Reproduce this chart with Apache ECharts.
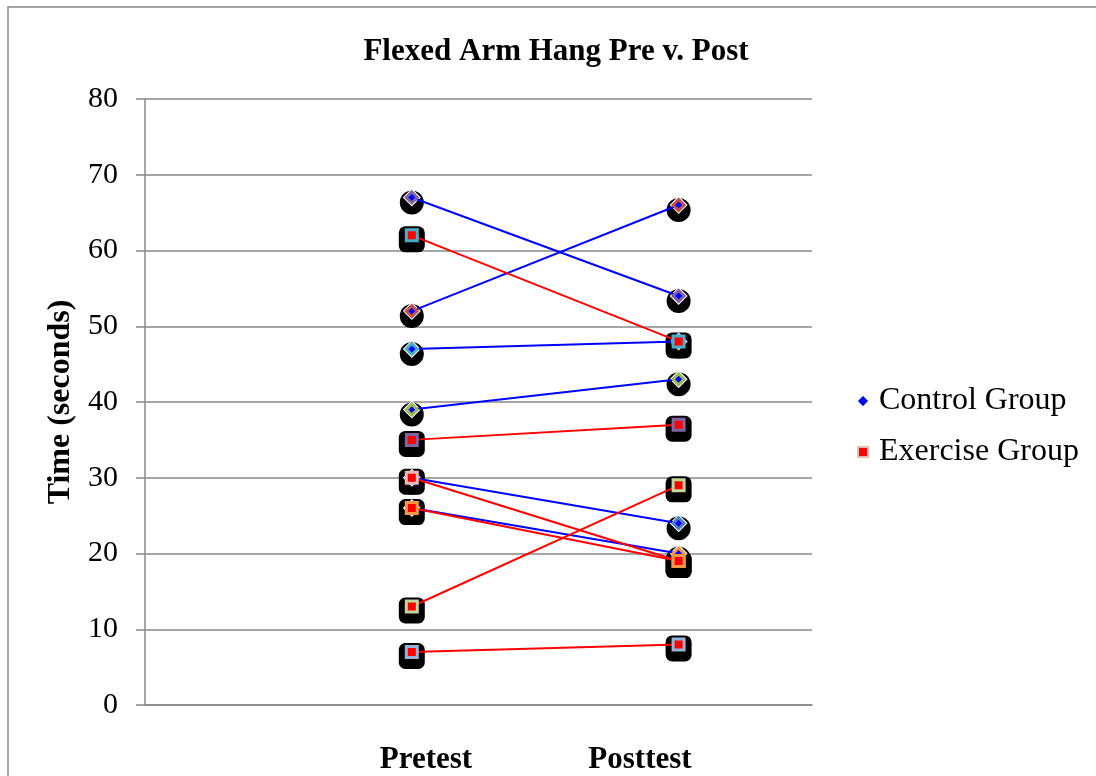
<!DOCTYPE html>
<html>
<head>
<meta charset="utf-8">
<script src="https://cdn.jsdelivr.net/npm/echarts@6/dist/echarts.min.js"></script>
<style>
html,body{margin:0;padding:0;background:#fff;}
#chart{width:1096px;height:776px;}
</style>
</head>
<body>
<div id="chart"></div>
<script>
// ---- data ----
var titleText = 'Flexed Arm Hang Pre v. Post';
var yAxisTitle = 'Time (seconds)';
var xLabels = ['Pretest', 'Posttest'];
var seriesNames = ['Control Group', 'Exercise Group'];
var controlPre  = [67, 52, 47, 39, 30, 26];
var controlPost = [54, 66, 48, 43, 24, 20];
var exercisePre  = [62, 35, 30, 26, 13, 7];
var exercisePost = [48, 37, 19, 19, 29, 8];
// per-subject marker border colours (style)
var controlBorders  = ['#8064A2', '#C0504D', '#4BACC6', '#9BBB59', '#4F81BD', '#F79646'];
var exerciseBorders = ['#4BACC6', '#8064A2', '#E6B9B8', '#F79646', '#C3D69B', '#95B3D7'];

var FONT = '"Liberation Serif", "Times New Roman", serif';

function pts(pre, post) {
  var out = [];
  for (var i = 0; i < pre.length; i++) { out.push([1, pre[i]]); out.push([2, post[i]]); }
  return out;
}

var series = [];
// black shadow shapes
series.push({
  type: 'scatter', name: 'shadowC', data: pts(controlPre, controlPost),
  symbol: 'circle', symbolSize: 24, symbolOffset: [0, 5],
  itemStyle: { color: '#000', opacity: 1 }, silent: true
});
series.push({
  type: 'scatter', name: 'shadowE', data: pts(exercisePre, exercisePost),
  symbol: 'roundRect', symbolSize: 26, symbolOffset: [0, 4],
  itemStyle: { color: '#000', opacity: 1 }, silent: true
});
// white halo for diamonds
series.push({
  type: 'scatter', name: 'haloC', data: pts(controlPre, controlPost),
  symbol: 'diamond', symbolSize: 18,
  itemStyle: { color: '#fff', opacity: 1 }, silent: true
});
controlPre.forEach(function (v, i) {
  series.push({
    type: 'line', name: seriesNames[0],
    data: [[1, controlPre[i]], [2, controlPost[i]]],
    symbol: 'diamond', symbolSize: 11, showSymbol: true,
    lineStyle: { color: '#0000FF', width: 2 },
    itemStyle: { color: '#0000FF', borderColor: controlBorders[i], borderWidth: 3, opacity: 1 }
  });
});
exercisePre.forEach(function (v, i) {
  series.push({
    type: 'line', name: seriesNames[1],
    data: [[1, exercisePre[i]], [2, exercisePost[i]]],
    symbol: 'rect', symbolSize: 11, showSymbol: true,
    lineStyle: { color: '#FF0000', width: 2 },
    itemStyle: { color: '#FF0000', borderColor: exerciseBorders[i], borderWidth: 3, opacity: 1 }
  });
});

var chart = echarts.init(document.getElementById('chart'), null, { renderer: 'canvas' });
chart.setOption({
  animation: false,
  backgroundColor: '#fff',
  title: {
    text: titleText, left: 551, top: 31, textAlign: 'center',
    textStyle: { fontFamily: FONT, fontSize: 31, fontWeight: 'bold', color: '#000' }
  },
  legend: {
    orient: 'vertical', left: 852, top: 379, itemGap: 17,
    itemWidth: 10, itemHeight: 10,
    textStyle: { fontFamily: FONT, fontSize: 32, color: '#000', lineHeight: 34, padding: [0, 0, 0, 6] },
    data: [
      { name: seriesNames[0], icon: 'diamond', itemStyle: { color: '#0000FF', borderColor: '#4F81BD', borderWidth: 1 } },
      { name: seriesNames[1], icon: 'rect', itemStyle: { color: '#FF0000', borderColor: '#E6B9B8', borderWidth: 2 } }
    ]
  },
  grid: { left: 145, right: 284, top: 99, bottom: 71, containLabel: false },
  xAxis: {
    type: 'value', min: 0, max: 2.5, interval: 0.5,
    axisLine: { show: true, onZero: false, lineStyle: { color: '#888', width: 1.5 } },
    axisTick: { show: false }, axisLabel: { show: false }, splitLine: { show: false }
  },
  yAxis: {
    type: 'value', min: 0, max: 80, interval: 10,
    name: yAxisTitle, nameLocation: 'middle', nameGap: 66, nameRotate: 90,
    nameTextStyle: { fontFamily: FONT, fontSize: 32, fontWeight: 'bold', color: '#000' },
    axisLine: { show: true, lineStyle: { color: '#888', width: 1.5 } },
    axisTick: { show: true, inside: false, length: 9, lineStyle: { color: '#888', width: 1.5 } },
    axisLabel: { fontFamily: FONT, fontSize: 30, color: '#000', margin: 27 },
    splitLine: { show: true, lineStyle: { color: '#888', width: 1.5 } }
  },
  graphic: [
    { type: 'rect', silent: true,
      shape: { x: 8, y: 7, width: 1300, height: 1000 },
      style: { fill: 'none', stroke: '#888', lineWidth: 1.5 } },
    { type: 'text', x: 426, y: 760, silent: true,
      style: { text: xLabels[0], font: 'bold 31px ' + FONT, fill: '#000', textAlign: 'center', textVerticalAlign: 'middle' } },
    { type: 'text', x: 640, y: 760, silent: true,
      style: { text: xLabels[1], font: 'bold 31px ' + FONT, fill: '#000', textAlign: 'center', textVerticalAlign: 'middle' } }
  ],
  series: series
});
</script>
</body>
</html>
